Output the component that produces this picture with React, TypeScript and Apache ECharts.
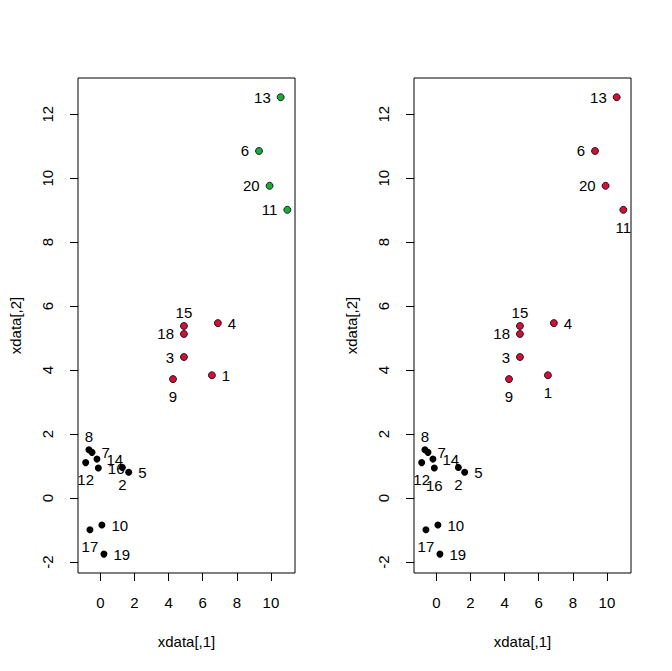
import React, { useEffect, useRef } from "react";
import * as echarts from "echarts";

// ---- data ----
const POINT_IDS = ["1","2","3","4","5","6","7","8","9","10","11","12","13","14","15","16","17","18","19","20"];
const XDATA_1 = [6.54, 1.29, 4.90, 6.89, 1.66, 9.30, -0.49, -0.67, 4.26, 0.09, 10.96, -0.86, 10.57, -0.20, 4.90, -0.12, -0.61, 4.90, 0.21, 9.92];
const XDATA_2 = [3.84, 0.96, 4.41, 5.47, 0.81, 10.85, 1.43, 1.51, 3.72, -0.84, 9.01, 1.11, 12.53, 1.22, 5.38, 0.94, -0.99, 5.13, -1.75, 9.76];
// cluster memberships (1 = black, 2 = red, 3 = green)
const CLUSTER_LEFT = [2, 1, 2, 2, 1, 3, 1, 1, 2, 1, 3, 1, 3, 1, 2, 1, 1, 2, 1, 3];
const CLUSTER_RIGHT = [2, 1, 2, 2, 1, 2, 1, 1, 2, 1, 2, 1, 2, 1, 2, 1, 1, 2, 1, 2];
const X_TICKS = [0, 2, 4, 6, 8, 10];
const Y_TICKS = [-2, 0, 2, 4, 6, 8, 10, 12];
const X_TITLE = "xdata[,1]";
const Y_TITLE = "xdata[,2]";

// ---- styles ----
const CLUSTER_COLORS: Record<number, string> = { 1: "#000000", 2: "#D0103A", 3: "#1FA83A" };
const LABEL_POS_LEFT = ["right","bottom","left","right","right","left","right","top","bottom","right","left","bottom","left","right","top","right","bottom","left","right","left"];
const LABEL_POS_RIGHT = ["bottom","bottom","left","right","right","left","right","top","bottom","right","bottom","bottom","left","right","top","bottom","bottom","left","right","left"];
const FONT = "'Liberation Sans', Arial, sans-serif";
const FS = 15;

function buildSeriesData(clusters: number[], positions: string[]) {
  return POINT_IDS.map((id, i) => ({
    name: id,
    value: [XDATA_1[i], XDATA_2[i]],
    itemStyle: {
      color: CLUSTER_COLORS[clusters[i]],
      borderColor: "#000",
      borderWidth: clusters[i] === 1 ? 0 : 0.8,
      opacity: 1,
    },
    label: {
      position: positions[i],
      distance: positions[i] === "top" ? 2 : 6,
    },
  }));
}

function makeXAxis(gridIndex: number) {
  return {
    type: "value",
    gridIndex,
    min: -1.31,
    max: 11.41,
    splitLine: { show: false },
    axisLine: { show: false, onZero: false },
    axisTick: { show: true, inside: false, length: 8, customValues: X_TICKS, lineStyle: { color: "#000", width: 1 } },
    axisLabel: { customValues: X_TICKS, margin: 22, color: "#000", fontSize: FS, fontFamily: FONT },
    name: X_TITLE,
    nameLocation: "middle",
    nameGap: 61,
    nameTextStyle: { color: "#000", fontSize: FS, fontFamily: FONT, verticalAlign: "top" },
  };
}

function makeYAxis(gridIndex: number) {
  return {
    type: "value",
    gridIndex,
    min: -2.34,
    max: 13.13,
    splitLine: { show: false },
    axisLine: { show: false, onZero: false },
    axisTick: { show: true, inside: false, length: 8, customValues: Y_TICKS, lineStyle: { color: "#000", width: 1 } },
    axisLabel: { customValues: Y_TICKS, rotate: 90, margin: 23, color: "#000", fontSize: FS, fontFamily: FONT },
    name: Y_TITLE,
    nameLocation: "middle",
    nameGap: 55,
    nameTextStyle: { color: "#000", fontSize: FS, fontFamily: FONT },
  };
}

export default function App() {
  const ref = useRef<HTMLDivElement>(null);
  useEffect(() => {
    if (!ref.current) return;
    const chart = echarts.init(ref.current, null, { renderer: "svg" });
    const gridBase = { top: 78, height: 495, width: 217, show: true, borderColor: "#000", borderWidth: 1, backgroundColor: "transparent", containLabel: false };
    const labelStyle = { show: true, formatter: "{b}", color: "#000", fontSize: FS, fontFamily: FONT };
    chart.setOption({
      animation: false,
      backgroundColor: "#ffffff",
      grid: [
        { ...gridBase, left: 78 },
        { ...gridBase, left: 414 },
      ],
      xAxis: [makeXAxis(0), makeXAxis(1)],
      yAxis: [makeYAxis(0), makeYAxis(1)],
      series: [
        {
          type: "scatter",
          xAxisIndex: 0,
          yAxisIndex: 0,
          symbol: "circle",
          symbolSize: 7,
          itemStyle: { opacity: 1 },
          label: labelStyle,
          emphasis: { disabled: true },
          data: buildSeriesData(CLUSTER_LEFT, LABEL_POS_LEFT),
        },
        {
          type: "scatter",
          xAxisIndex: 1,
          yAxisIndex: 1,
          symbol: "circle",
          symbolSize: 7,
          itemStyle: { opacity: 1 },
          label: labelStyle,
          emphasis: { disabled: true },
          data: buildSeriesData(CLUSTER_RIGHT, LABEL_POS_RIGHT),
        },
      ],
    });
    return () => chart.dispose();
  }, []);
  return (
    <div
      ref={ref}
      style={{ position: "fixed", left: 0, top: 0, width: 672, height: 671, background: "#fff" }}
    />
  );
}
